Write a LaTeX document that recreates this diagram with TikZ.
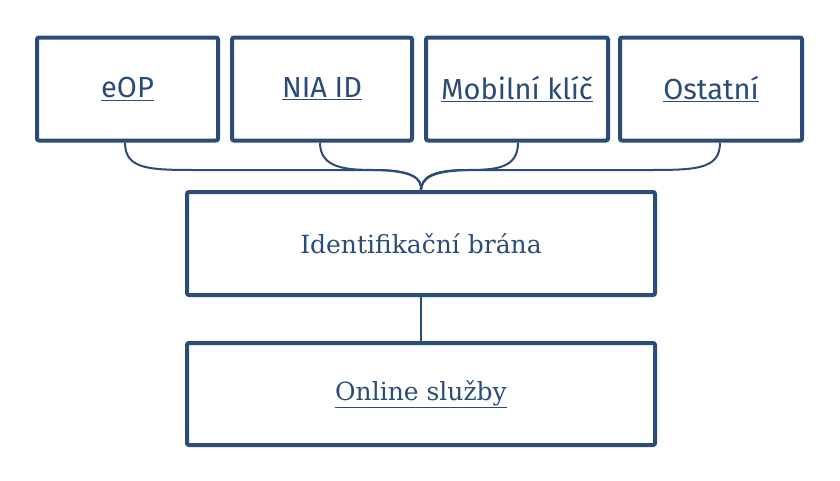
\documentclass[tikz,border=0pt]{standalone}
\usepackage{fontspec}
\setmainfont{DejaVu Serif}
\newfontfamily\topfont{Fira Sans}
\definecolor{nb}{HTML}{2B4C78}
\begin{document}
\begin{tikzpicture}[x=1pt,y=-1pt,
  box/.style={draw=nb,line width=4pt,rounded corners=2pt,text=nb,inner sep=0pt},
  con/.style={draw=nb,line width=2pt}]
\useasboundingbox (0,0) rectangle (840,480);
\node[box,minimum width=181,minimum height=103,font=\topfont\fontsize{29}{34}\selectfont] (a) at (127.5,89) {\underline{eOP}};
\node[box,minimum width=180,minimum height=103,font=\topfont\fontsize{29}{34}\selectfont] (b) at (322,89) {\underline{NIA ID}};
\node[box,minimum width=182,minimum height=103,font=\topfont\fontsize{29}{34}\selectfont] (c) at (517,89) {\underline{Mobilní klíč}};
\node[box,minimum width=182,minimum height=103,font=\topfont\fontsize{29}{34}\selectfont] (d) at (711,89) {\underline{Ostatní}};
\node[box,minimum width=468,minimum height=103,font=\fontsize{25}{30}\selectfont] (e) at (421,243.5) {Identifikační brána};
\node[box,minimum width=468,minimum height=102,font=\fontsize{25}{30}\selectfont] (f) at (421,394) {\underline{Online služby}};
\coordinate (j) at (e.north);
\draw[con] (a.south -| 125,0) .. controls (125,170) and (150,170) .. (200,170) -- (370,170) .. controls (412,170) and (422,178) .. (j);
\draw[con] (b.south -| 320,0) .. controls (320,168) and (345,170) .. (375,170) .. controls (412,170) and (422,178) .. (j);
\draw[con] (c.south -| 518,0) .. controls (518,168) and (497,170) .. (467,170) .. controls (430,170) and (422,178) .. (j);
\draw[con] (d.south -| 720,0) .. controls (720,170) and (695,170) .. (645,170) -- (474,170) .. controls (432,170) and (422,178) .. (j);
\draw[con] (e) -- (f);
\end{tikzpicture}
\end{document}
